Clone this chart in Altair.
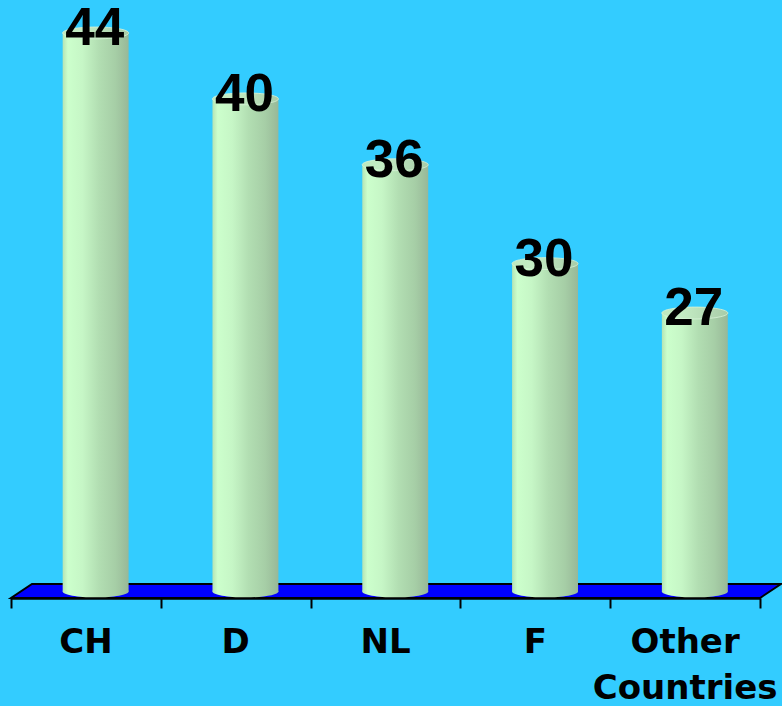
import altair as alt
import pandas as pd

# ---- data ----
countries = ["CH", "D", "NL", "F", "Other Countries"]
values = [44, 40, 36, 30, 27]

# ---- layout constants (not data) ----
Y_MIN, Y_MAX = 9.7, 46.0     # value scale domain
BASE = 10.1                  # value where the cylinders stand on the floor
FLOOR_TOP = 10.55            # back edge of the floor
DEPTH = 0.14                 # 3-D depth offset, in category units
BAR_L, BAR_R = 0.345, 0.785  # cylinder edges inside each category slot
LABEL_Y = 6.36               # baseline for category labels (below the axis)

BG = "#33CCFF"
grad = alt.LinearGradient(
    gradient="linear", x1=0, x2=1, y1=0, y2=0,
    stops=[
        alt.GradientStop(offset=0.0, color="#B4E4B4"),
        alt.GradientStop(offset=0.08, color="#CCFFCC"),
        alt.GradientStop(offset=0.3, color="#C6F6C6"),
        alt.GradientStop(offset=0.55, color="#B2DEB2"),
        alt.GradientStop(offset=0.8, color="#A6CEA6"),
        alt.GradientStop(offset=1.0, color="#98B898"),
    ],
)
cap_grad = alt.LinearGradient(
    gradient="linear", x1=0, x2=1, y1=0, y2=0,
    stops=[
        alt.GradientStop(offset=0.0, color="#BEE8BE"),
        alt.GradientStop(offset=0.3, color="#C4ECC4"),
        alt.GradientStop(offset=1.0, color="#A8CCA8"),
    ],
)

n = len(countries)
df = pd.DataFrame({"country": countries, "value": values, "idx": list(range(n))})
df["base"] = BASE
df["left"] = df["idx"] + BAR_L
df["right"] = df["idx"] + BAR_R
df["center"] = df["idx"] + (BAR_L + BAR_R) / 2
df["labx"] = df["idx"] + 0.5
df["laby"] = LABEL_Y

floor = pd.DataFrame({
    "x": [0, DEPTH, n, n + DEPTH],
    "y": [Y_MIN, Y_MIN, Y_MIN, FLOOR_TOP],
    "y2": [Y_MIN, FLOOR_TOP, FLOOR_TOP, FLOOR_TOP],
})

xscale = alt.Scale(domain=[0, n], nice=False, zero=False)
yscale = alt.Scale(domain=[Y_MIN, Y_MAX], nice=False, zero=False)

xaxis = alt.Axis(values=list(range(n + 1)), labels=False, title=None, grid=False,
                 domainColor="black", domainWidth=2.5, tickColor="black",
                 tickWidth=2, tickSize=10)

floor_layer = alt.Chart(floor).mark_area(
    color="#0000FF", stroke="black", strokeWidth=2, opacity=1, clip=False
).encode(
    x=alt.X("x:Q", scale=xscale, axis=xaxis),
    y=alt.Y("y:Q", scale=yscale, axis=None),
    y2="y2:Q",
)

base = alt.Chart(df)

body = base.mark_bar(fill=grad, opacity=1, clip=False).encode(
    x=alt.X("left:Q", scale=xscale, axis=xaxis),
    x2="right:Q",
    y=alt.Y("value:Q", scale=yscale, axis=None),
    y2="base:Q",
)

ellipse = "M-1,0 A1,0.18 0 1,1 1,0 A1,0.18 0 1,1 -1,0 Z"
bottom = base.mark_point(shape=ellipse, size=4356, filled=True, fill=grad,
                         strokeWidth=0, opacity=1, clip=False).encode(
    x=alt.X("center:Q", scale=xscale, axis=xaxis),
    y=alt.Y("base:Q", scale=yscale, axis=None),
)
top = base.mark_point(shape=ellipse, size=4356, filled=True, fill=cap_grad,
                      stroke="#D8F4D8", strokeWidth=0.8, opacity=1, clip=False).encode(
    x=alt.X("center:Q", scale=xscale, axis=xaxis),
    y=alt.Y("value:Q", scale=yscale, axis=None),
)

vals = base.mark_text(font="Liberation Sans", fontWeight="bold", fontSize=53,
                      color="black", baseline="alphabetic",
                      dx=-1, dy=12, clip=False).encode(
    x=alt.X("center:Q", scale=xscale, axis=xaxis),
    y=alt.Y("value:Q", scale=yscale, axis=None),
    text="value:Q",
)

labels = base.mark_text(font="DejaVu Sans", fontWeight="bold", fontSize=34,
                        color="black", baseline="alphabetic",
                        lineBreak=" ", lineHeight=46, clip=False).encode(
    x=alt.X("labx:Q", scale=xscale, axis=xaxis),
    y=alt.Y("laby:Q", scale=yscale, axis=None),
    text="country:N",
)

chart = alt.layer(floor_layer, body, bottom, top, vals, labels).properties(
    width=749, height=598,
    padding={"left": 11, "top": 0, "right": 22, "bottom": 108},
    autosize=alt.AutoSizeParams(type="none"),
    background=BG,
).configure_view(stroke=None)

chart.save("out.html", embed_options={"renderer": "svg", "actions": False})
